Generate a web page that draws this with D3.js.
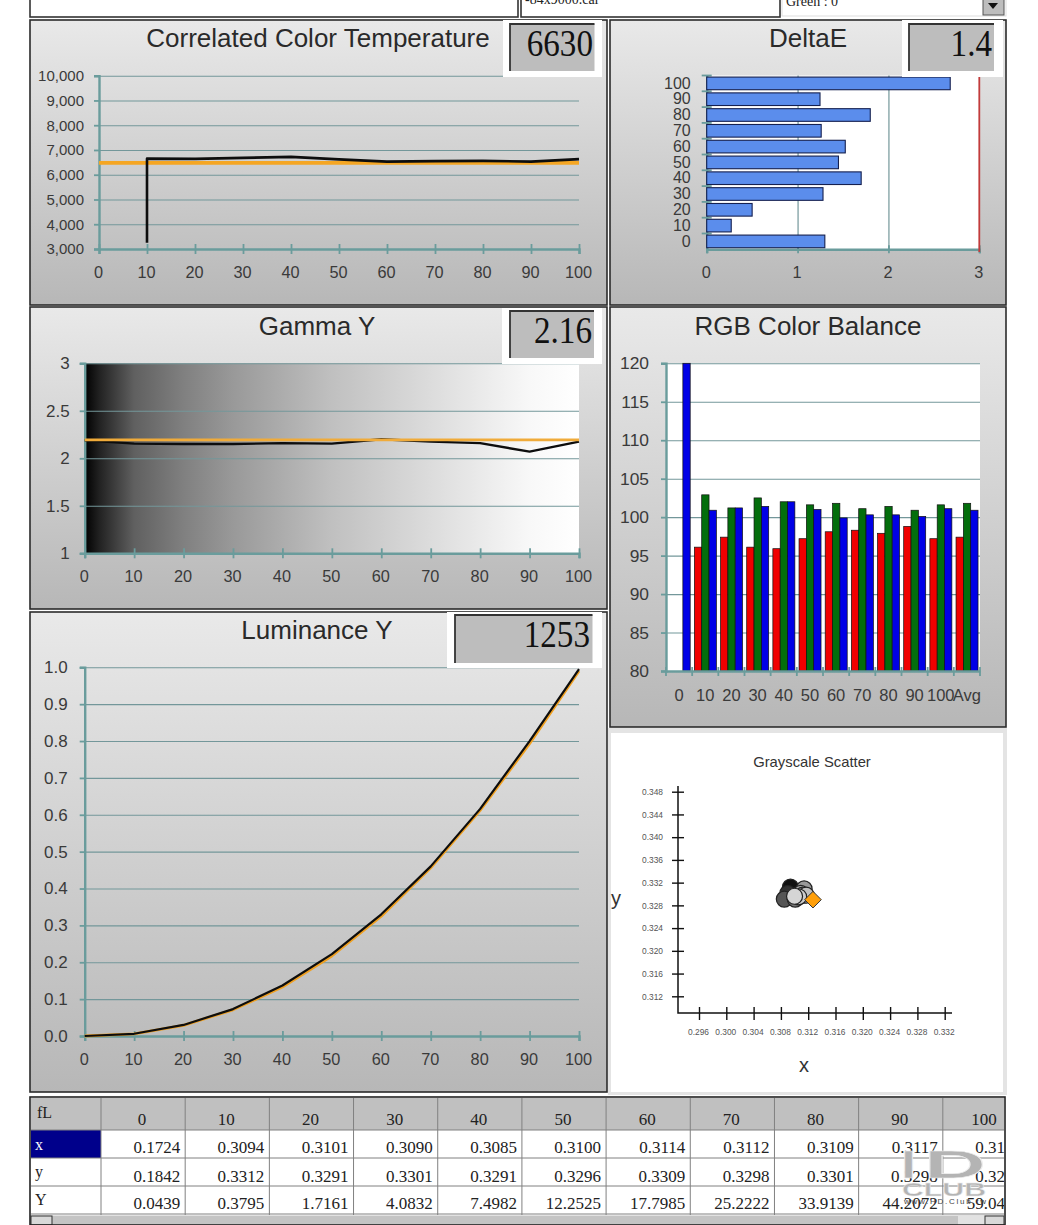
<!DOCTYPE html>
<html><head><meta charset="utf-8">
<script src="https://cdn.jsdelivr.net/npm/d3@7/dist/d3.min.js"></script>
<style>html,body{margin:0;padding:0;background:#fff}svg{display:block}</style>
</head><body><svg id="c" width="1038" height="1225"></svg>
<script>
// ---------- data ----------
const levels = [0,10,20,30,40,50,60,70,80,90,100];
const cctX = [10,10,20,30,40,50,60,70,80,90,100];
const cctVals = [3250,6650,6640,6680,6720,6620,6530,6550,6560,6530,6630];
const cctTargetX = [0,100];
const cctTarget = [6480,6480];
const deltaE = [1.30,0.27,0.50,1.28,1.70,1.45,1.525,1.26,1.80,1.247,2.68];
const gammaVals = [2.19,2.155,2.15,2.15,2.16,2.155,2.20,2.175,2.16,2.07,2.175];
const gammaTarget = [2.195,2.195,2.195,2.195,2.195,2.195,2.195,2.195,2.195,2.195,2.195];
const lumVals = [0,0.006,0.030,0.073,0.137,0.222,0.330,0.460,0.616,0.800,0.995];
const lumTarget = [0,0.006,0.029,0.071,0.133,0.217,0.325,0.456,0.612,0.793,0.990];
const rgbCats = ["0","10","20","30","40","50","60","70","80","90","100","Avg"];
const redVals = [null,96.1,97.4,96.1,95.9,97.2,98.1,98.3,97.9,98.8,97.2,97.4];
const greenVals = [null,102.9,101.2,102.5,102,101.6,101.8,101.1,101.4,100.9,101.6,101.8];
const blueVals = [120,100.9,101.2,101.4,102,101,99.9,100.3,100.3,100.1,101.1,100.9];
const tableX = ["0.1724","0.3094","0.3101","0.3090","0.3085","0.3100","0.3114","0.3112","0.3109","0.3117","0.3106"];
const tableY = ["0.1842","0.3312","0.3291","0.3301","0.3291","0.3296","0.3309","0.3298","0.3301","0.3298","0.3295"];
const tableLum = ["0.0439","0.3795","1.7161","4.0832","7.4982","12.2525","17.7985","25.2222","33.9139","44.2072","59.0400"];
const scatterOrder = [1,3,4,2,6,8,7,9,10,5];
const scatterFill = {1:"#111",3:"#333",4:"#555",2:"#777",6:"#999",8:"#aaa",7:"#b5b5b5",9:"#c0c0c0",10:"#ccc",5:"#d5d5d5"};
const targetPoint = {x:0.3127,y:0.3290};
const scatterXTicks = [0.296,0.300,0.304,0.308,0.312,0.316,0.320,0.324,0.328,0.332];
const scatterYTicks = [0.312,0.316,0.320,0.324,0.328,0.332,0.336,0.340,0.344,0.348];
const cctTicks = [3000,4000,5000,6000,7000,8000,9000,10000];
const gammaTicks = [1,1.5,2,2.5,3];
const lumTicks = [0,0.1,0.2,0.3,0.4,0.5,0.6,0.7,0.8,0.9,1];
const rgbTicks = [80,85,90,95,100,105,110,115,120];

// ---------- helpers ----------
const TEAL="#6a9c9c", GRID="#73979a", SANS="'Liberation Sans',Arial,sans-serif", SERIF="'Liberation Serif','Times New Roman',serif", INK="#3a3a3a";
const svg=d3.select("#c"), defs=svg.append("defs");
const pg=defs.append("linearGradient").attr("id","panel").attr("x1",0).attr("x2",0).attr("y1",0).attr("y2",1);
pg.append("stop").attr("offset",0).attr("stop-color","#e9e9e9");
pg.append("stop").attr("offset",1).attr("stop-color","#b7b7b7");
const gg=defs.append("linearGradient").attr("id","gamma");
[[0,"#000"],[.03,"#222"],[.1,"#606060"],[.2,"#808080"],[.3,"#999"],[.5,"#c0c0c0"],[.7,"#dcdcdc"],[.9,"#f8f8f8"],[1,"#fff"]]
 .forEach(([o,c])=>gg.append("stop").attr("offset",o).attr("stop-color",c));

function panel(x,y,w,h){svg.append("rect").attr("x",x).attr("y",y).attr("width",w).attr("height",h).attr("fill","url(#panel)").attr("stroke","#2b2b2b").attr("stroke-width",1.6);}
function title(t,x,y){svg.append("text").attr("x",x).attr("y",y).attr("text-anchor","middle").attr("font-family",SANS).attr("font-size",26).attr("fill","#2a2a2a").text(t);}
function valueBox(v,wx,wy,ww,wh,gx,gy,gw,gh,tx,ty){
  svg.append("rect").attr("x",wx).attr("y",wy).attr("width",ww).attr("height",wh).attr("fill","#fff");
  svg.append("rect").attr("x",gx).attr("y",gy).attr("width",gw).attr("height",gh).attr("fill","#bdbdbd");
  svg.append("path").attr("d",`M${gx},${gy+gh}V${gy}H${gx+gw}`).attr("fill","none").attr("stroke","#333").attr("stroke-width",1.8);
  svg.append("text").attr("transform",`translate(${tx},${ty}) scale(0.85,1)`).attr("text-anchor","end").attr("font-family",SERIF).attr("font-size",39).attr("fill","#111").text(v);
}
function yGrid(y,x0,x1,ticks){
  const g=svg.append("g").attr("transform",`translate(${x0},0)`).call(d3.axisLeft(y).tickValues(ticks).tickSize(-(x1-x0)).tickFormat(""));
  g.select(".domain").remove(); g.selectAll("line").attr("stroke",GRID).attr("stroke-width",1.1);
}
function styleAxis(g,fs,color){
  g.select(".domain").attr("stroke",color||TEAL).attr("stroke-width",2.4);
  g.selectAll("line").attr("stroke",color||TEAL).attr("stroke-width",1.8);
  g.selectAll("text").attr("font-family",SANS).attr("font-size",fs).attr("fill",INK);
}
function axes(x,y,yBase,xLeft,yFmt,yTicks,yFs,pad,xPad){
  const gy=svg.append("g").attr("transform",`translate(${xLeft},0)`).call(d3.axisLeft(y).tickValues(yTicks).tickFormat(yFmt).tickSizeOuter(0).tickSize(5).tickPadding(pad));
  styleAxis(gy,yFs);
  const gx=svg.append("g").attr("transform",`translate(0,${yBase})`).call(d3.axisBottom(x).tickValues(levels).tickSizeOuter(0).tickSize(5).tickPadding(xPad));
  styleAxis(gx,16.3);
  gx.selectAll("line").attr("y1",-5);
  gx.selectAll("text").attr("dx",-1);
}
const line=(xs,x,y)=>d3.line().x((d,i)=>x(xs[i])).y(d=>y(d));
function drawLine(vals,xs,x,y,color,w){svg.append("path").datum(vals).attr("d",line(xs,x,y)).attr("fill","none").attr("stroke",color).attr("stroke-width",w).attr("stroke-linejoin","round");}

// ---------- top strip ----------
[[30,-4,488,21],[521,-4,259,21]].forEach(([x,y,w,h])=>svg.append("rect").attr("x",x).attr("y",y).attr("width",w).attr("height",h).attr("fill","#fff").attr("stroke","#333").attr("stroke-width",1.6));
svg.append("rect").attr("x",782).attr("y",-2).attr("width",224).attr("height",18).attr("fill","#fff").attr("stroke","#ddd");
svg.append("text").attr("x",525).attr("y",4).attr("font-family",SERIF).attr("font-size",14).attr("fill","#222").text("-84x9000.cal");
svg.append("text").attr("x",786).attr("y",6).attr("font-family",SERIF).attr("font-size",14).attr("fill","#222").text("Green : 0");
svg.append("rect").attr("x",983).attr("y",-2).attr("width",21).attr("height",17).attr("fill","#bdbdbd").attr("stroke","#555");
svg.append("path").attr("d","M988,3H998L993,9Z").attr("fill","#111");

// ---------- CCT ----------
panel(30,20,577,285);
{
  const x=d3.scaleLinear([0,100],[99,579]), y=d3.scaleLinear([3000,10000],[249,75.7]);
  yGrid(y,99,579,cctTicks);
  axes(x,y,249,99,d3.format(","),cctTicks,15,10,12);
  drawLine(cctTarget,cctTargetX,x,y,"#f5a623",3.6);
  drawLine(cctVals,cctX,x,y,"#0d0d0d",2.6);
  title("Correlated Color Temperature",318,47);
  valueBox("6630",503,20,99,57,510,24,84.5,47,593,56);
}
// ---------- DeltaE ----------
panel(610,20,396,285);
{
  const x=d3.scaleLinear([0,3],[706.7,979.3]);
  const y=d3.scaleBand(levels,[249.3,75.5]).paddingInner(0.2).paddingOuter(0.1);
  const y2=d3.scaleBand(levels,[249.3,75.5]);
  svg.append("rect").attr("x",x(0)).attr("y",75.5).attr("width",x(3)-x(0)).attr("height",173.8).attr("fill","#fff");
  const gg2=svg.append("g").attr("transform","translate(0,249.3)").call(d3.axisBottom(x).tickValues([1,2]).tickSize(-173.8).tickFormat(""));
  gg2.select(".domain").remove(); gg2.selectAll("line").attr("stroke",GRID).attr("stroke-width",1.2);
  const ax=svg.append("g").attr("transform","translate(0,249.3)").call(d3.axisBottom(x).tickValues([0,1,2,3]).tickFormat(d3.format("d")).tickSizeOuter(0).tickSize(4).tickPadding(13));
  styleAxis(ax,16.3); ax.selectAll("line").attr("y1",-4); ax.selectAll("text").attr("dx",-1);
  const ay=svg.append("g").attr("transform","translate(706.7,0)").call(d3.axisLeft(y2).tickSize(0).tickPadding(16).tickSizeOuter(0));
  styleAxis(ay,16);
  const tk=svg.append("g").attr("transform","translate(706.7,0)");
  tk.selectAll("line").data(levels).join("line").attr("x1",-5).attr("x2",5).attr("y1",d=>y2(d)).attr("y2",d=>y2(d)).attr("stroke",TEAL).attr("stroke-width",1.8);
  svg.append("g").selectAll("rect").data(deltaE).join("rect")
    .attr("x",x(0)).attr("y",(d,i)=>y(levels[i])).attr("width",d=>x(d)-x(0)).attr("height",y.bandwidth())
    .attr("fill","#5b8dec").attr("stroke","#15204f").attr("stroke-width",1.1);
  svg.append("line").attr("x1",x(3)).attr("x2",x(3)).attr("y1",76).attr("y2",252).attr("stroke","#c23b3b").attr("stroke-width",1.8);
  title("DeltaE",808,47);
  valueBox("1.4",902,20,101,57,909,24,85,47,992,56);
}
// ---------- Gamma ----------
panel(30,307,577,302);
{
  const x=d3.scaleLinear([0,100],[84.7,579]), y=d3.scaleLinear([1,3],[553.3,363.3]);
  svg.append("rect").attr("x",x(0)).attr("y",y(3)).attr("width",x(100)-x(0)).attr("height",y(1)-y(3)).attr("fill","url(#gamma)");
  yGrid(y,84.7,579,gammaTicks);
  axes(x,y,553.3,84.7,d3.format("~g"),gammaTicks,17,10,12);
  drawLine(gammaVals,levels,x,y,"#0d0d0d",2.4);
  drawLine(gammaTarget,levels,x,y,"#f0ab3a",2.8);
  title("Gamma Y",317,335);
  valueBox("2.16",502,308,100,56,510,311,84,47,592,343);
}
// ---------- RGB ----------
panel(610,307,396,420);
{
  const x=d3.scaleBand(rgbCats,[666,980]);
  const x1=d3.scaleBand(["r","g","b"],[2.2,24.2]);
  const y=d3.scaleLinear([80,120],[671,363.3]);
  svg.append("rect").attr("x",666).attr("y",363.3).attr("width",314).attr("height",307.7).attr("fill","#fff");
  yGrid(y,666,980,rgbTicks);
  const ay=svg.append("g").attr("transform","translate(666,0)").call(d3.axisLeft(y).tickValues(rgbTicks).tickSizeOuter(0).tickSize(5).tickPadding(12));
  styleAxis(ay,17.4);
  const series=[["r",redVals,"#f00000"],["g",greenVals,"#036e0c"],["b",blueVals,"#0000e6"]];
  series.forEach(([k,v,c])=>{
    const rows=rgbCats.map((cat,i)=>({cat,val:v[i]})).filter(d=>d.val!=null);
    svg.append("g").selectAll("rect").data(rows).join("rect")
      .attr("x",d=>x(d.cat)+x1(k))
      .attr("width",x1.bandwidth()).attr("y",d=>y(d.val)).attr("height",d=>y(80)-y(d.val))
      .attr("fill",c).attr("stroke","#111").attr("stroke-width",.7);
  });
  const ax=svg.append("g").attr("transform","translate(0,671)").call(d3.axisBottom(x).tickSizeOuter(0).tickSize(0).tickPadding(18));
  styleAxis(ax,16.5);
  svg.append("g").selectAll("line").data(rgbCats.concat("end")).join("line")
    .attr("x1",(d,i)=>666+i*x.bandwidth()).attr("x2",(d,i)=>666+i*x.bandwidth()).attr("y1",667).attr("y2",676).attr("stroke",TEAL).attr("stroke-width",1.8);
  title("RGB Color Balance",808,335);
}
// ---------- Luminance ----------
panel(30,612,577,480);
{
  const x=d3.scaleLinear([0,100],[84.7,579]), y=d3.scaleLinear([0,1],[1036,667.3]);
  yGrid(y,84.7,579,lumTicks);
  axes(x,y,1036,84.7,d3.format(".1f"),lumTicks,17,12,12);
  drawLine(lumTarget,levels,x,y,"#f0a020",2.8);
  drawLine(lumVals,levels,x,y,"#0d0d0d",2.2);
  title("Luminance Y",317,639);
  valueBox("1253",447,612,155,56,455,615,137.5,48,590,647);
}
// ---------- Scatter ----------
svg.append("rect").attr("x",608).attr("y",728).attr("width",399).attr("height",367).attr("fill","#e4e4e4");
svg.append("rect").attr("x",611).attr("y",733).attr("width",392).attr("height",359).attr("fill","#fff");
{
  const x=d3.scaleLinear([0.296,0.332],[699,944.7]), y=d3.scaleLinear([0.312,0.348],[996.3,791.7]);
  const f=d3.format(".3f");
  svg.append("text").attr("x",812).attr("y",766.5).attr("text-anchor","middle").attr("font-family",SANS).attr("font-size",14.8).attr("fill","#333").text("Grayscale Scatter");
  svg.append("path").attr("d","M678,786V1013H952").attr("fill","none").attr("stroke","#111").attr("stroke-width",1.5);
  const ay=svg.append("g").attr("transform","translate(678,0)").call(d3.axisLeft(y).tickValues(scatterYTicks).tickFormat(f).tickSize(6).tickPadding(9));
  ay.select(".domain").remove(); ay.selectAll("line").attr("stroke","#111").attr("stroke-width",1.4).attr("x2",6).attr("x1",-6);
  ay.selectAll("text").attr("font-family",SANS).attr("font-size",8.4).attr("fill","#555");
  const ax=svg.append("g").attr("transform","translate(0,1013)").call(d3.axisBottom(x).tickValues(scatterXTicks).tickFormat(f).tickSize(7).tickPadding(9));
  ax.select(".domain").remove(); ax.selectAll("line").attr("stroke","#111").attr("stroke-width",1.4).attr("y1",-6);
  ax.selectAll("text").attr("font-family",SANS).attr("font-size",8.4).attr("fill","#555").attr("dx",-1);
  svg.selectAll("circle.pt").data(scatterOrder).join("circle").attr("class","pt")
    .attr("cx",i=>x(+tableX[i])).attr("cy",i=>y(+tableY[i])).attr("r",8)
    .attr("fill",i=>scatterFill[i]).attr("stroke","#222").attr("stroke-width",1.2);
  svg.append("path").attr("transform",`translate(${x(targetPoint.x)},${y(targetPoint.y)})`).attr("d","M0,-8.3L8.3,0L0,8.3L-8.3,0Z").attr("fill","#ff9f0a").attr("stroke","#333").attr("stroke-width",1);
  svg.append("text").attr("x",616).attr("y",905).attr("text-anchor","middle").attr("font-family",SANS).attr("font-size",20).attr("fill","#333").text("y");
  svg.append("text").attr("x",804).attr("y",1072).attr("text-anchor","middle").attr("font-family",SANS).attr("font-size",20).attr("fill","#333").text("x");
}
// ---------- Table ----------
{
  defs.append("clipPath").attr("id","tbl").append("rect").attr("x",30).attr("y",1097).attr("width",974).attr("height",128);
  const T=svg.append("g").attr("clip-path","url(#tbl)");
  const col=d3.scaleBand(levels,[101,1027]);
  T.append("rect").attr("x",31).attr("y",1098).attr("width",975).attr("height",118).attr("fill","#fff");
  T.append("rect").attr("x",31).attr("y",1098).attr("width",975).attr("height",32).attr("fill","#c0c0c0");
  T.append("rect").attr("x",31).attr("y",1130).attr("width",70).attr("height",28).attr("fill","#00008b");
  const rows=[[tableX,"x",1153,1150,"#fff"],[tableY,"y",1181.5,1177,"#222"],[tableLum,"Y",1209,1205,"#222"]];
  levels.forEach((l,i)=>{
    T.append("line").attr("x1",col(l)).attr("x2",col(l)).attr("y1",1098).attr("y2",1215).attr("stroke","#808080");
    T.append("text").attr("x",col(l)+col.bandwidth()/2-1).attr("y",1125).attr("text-anchor","middle").attr("font-family",SERIF).attr("font-size",17).attr("fill","#222").text(l);
  });
  [1130,1158,1186,1214].forEach(yy=>T.append("line").attr("x1",31).attr("x2",1006).attr("y1",yy).attr("y2",yy).attr("stroke","#808080"));
  T.append("text").attr("x",37).attr("y",1118).attr("font-family",SERIF).attr("font-size",16).attr("fill","#222").text("fL");
  rows.forEach(([vals,name,base,nb,c])=>{
    T.append("text").attr("x",35).attr("y",nb).attr("font-family",SERIF).attr("font-size",16).attr("fill",c).text(name);
    T.selectAll(null).data(vals).join("text").attr("x",(d,i)=>col(levels[i])+col.bandwidth()-5).attr("y",base)
      .attr("text-anchor","end").attr("font-family",SERIF).attr("font-size",17).attr("fill","#222").text(d=>d);
  });
  T.append("rect").attr("x",31).attr("y",1215.5).attr("width",975).attr("height",10).attr("fill","#c4c4c4");
  T.append("rect").attr("x",31).attr("y",1216).attr("width",21).attr("height",9).attr("fill","#d8d8d8").attr("stroke","#333");
  T.append("rect").attr("x",958).attr("y",1216).attr("width",27).attr("height",9).attr("fill","#e2e2e2");
  T.append("rect").attr("x",985).attr("y",1216).attr("width",19).attr("height",9).attr("fill","#d8d8d8").attr("stroke","#333");
  svg.append("rect").attr("x",30).attr("y",1097).attr("width",975).attr("height",128).attr("fill","none").attr("stroke","#222").attr("stroke-width",1.6);
  // watermark
  const W=svg.append("g").attr("font-family",SANS).attr("font-weight","bold").attr("fill","#b4b4b4").attr("stroke","#eee");
  W.append("text").attr("x",901).attr("y",1178).attr("font-size",39).attr("textLength",15).attr("lengthAdjust","spacingAndGlyphs").attr("stroke-width",.6).text("I");
  W.append("text").attr("x",924).attr("y",1178).attr("font-size",39).attr("textLength",62).attr("lengthAdjust","spacingAndGlyphs").attr("stroke-width",.6).text("D");
  W.append("text").attr("x",902).attr("y",1196).attr("font-size",19).attr("textLength",84).attr("lengthAdjust","spacingAndGlyphs").attr("stroke-width",.4).text("CLUB");
  W.append("text").attr("x",904).attr("y",1203.5).attr("font-size",8).attr("font-weight","normal").attr("textLength",82).attr("fill","#444").attr("stroke","none").text("www.HD.Club.tw");
}
</script></body></html>
